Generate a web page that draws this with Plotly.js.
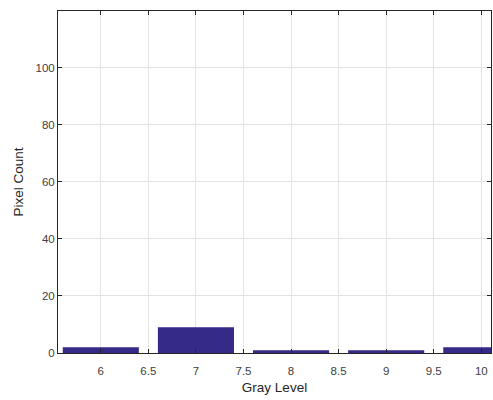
<!DOCTYPE html>
<html>
<head>
<meta charset="utf-8">
<script src="https://cdn.plot.ly/plotly-3.0.1.min.js"></script>
<style>
html,body{margin:0;padding:0;background:#fff;}
#chart{width:493px;height:400px;}
</style>
</head>
<body>
<div id="chart"></div>
<script>
const grayLevels = [6, 7, 8, 9, 10];
const pixelCounts = [2, 9, 1, 1, 2];
const xTickVals = [6, 6.5, 7, 7.5, 8, 8.5, 9, 9.5, 10];
const xTickText = ['6', '6.5', '7', '7.5', '8', '8.5', '9', '9.5', '10'];
const yTickVals = [0, 20, 40, 60, 80, 100];
const yTickText = ['0', '20', '40', '60', '80', '100'];

const axisColor = '#262626';
const gridColor = '#e3e3e3';

const trace = {
  type: 'bar',
  x: grayLevels,
  y: pixelCounts,
  width: 0.8,
  marker: {color: '#352a87', line: {width: 0}},
  hoverinfo: 'x+y'
};

const layout = {
  width: 493,
  height: 400,
  margin: {l: 58, r: 2, t: 11, b: 47},
  paper_bgcolor: '#ffffff',
  plot_bgcolor: '#ffffff',
  showlegend: false,
  font: {family: 'Liberation Sans, Arial, sans-serif', color: axisColor, size: 11},
  xaxis: {
    range: [5.55, 10.102],
    tickmode: 'array',
    tickvals: xTickVals,
    ticktext: xTickText,
    ticks: 'inside',
    ticklen: 4,
    tickcolor: axisColor,
    showline: true,
    linecolor: axisColor,
    linewidth: 1,
    mirror: 'allticks',
    showgrid: true,
    gridcolor: gridColor,
    zeroline: false,
    ticklabelstandoff: 7,
    tickfont: {size: 11.5, color: '#404040'},
    title: {text: 'Gray Level', font: {size: 13.5, color: axisColor}, standoff: 6}
  },
  yaxis: {
    range: [0, 119.8],
    tickmode: 'array',
    tickvals: yTickVals,
    ticktext: yTickText,
    ticks: 'inside',
    ticklen: 4,
    tickcolor: axisColor,
    showline: true,
    linecolor: axisColor,
    linewidth: 1,
    mirror: 'allticks',
    showgrid: true,
    gridcolor: gridColor,
    zeroline: false,
    tickfont: {size: 11.5, color: '#404040'},
    title: {text: 'Pixel Count', font: {size: 13.5, color: axisColor}, standoff: 8}
  }
};

Plotly.newPlot('chart', [trace], layout, {displayModeBar: false, staticPlot: true});
</script>
</body>
</html>
